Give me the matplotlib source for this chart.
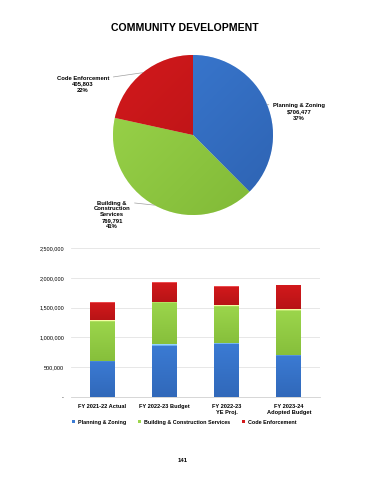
import matplotlib
matplotlib.use("Agg")
import matplotlib.pyplot as plt
import numpy as np
from matplotlib.colors import to_rgb

plt.rcParams['font.family'] = ['Liberation Sans', 'DejaVu Sans']

# ---- data ----
divisions = ["Planning & Zoning", "Building & Construction Services", "Code Enforcement"]
pie_values = [706477, 769791, 405803]
pie_pct = [37, 41, 22]

years = ["FY 2021-22 Actual", "FY 2022-23 Budget", "FY 2022-23\nYE Proj.", "FY 2023-24\nAdopted Budget"]
planning = [609000, 884000, 911000, 706477]
building = [678000, 715000, 633000, 769791]
code_enf = [302000, 326000, 313000, 405803]

yticks = [0, 500000, 1000000, 1500000, 2000000, 2500000]
ytick_labels = ["-", "500,000", "1,000,000", "1,500,000", "2,000,000", "2,500,000"]

colors = ["#3b7bd4", "#9cd64c", "#d3191c"]
dark = ["#2a5ca8", "#78b030", "#a51012"]

fig = plt.figure(figsize=(3.7, 4.8), dpi=100)
fig.patch.set_facecolor("white")

fig.text(185 / 370, 1 - 28 / 480, "COMMUNITY DEVELOPMENT", ha="center", va="center",
         fontsize=7.6, fontweight="bold")

# ---- pie ----
pax = fig.add_axes([113 / 370, 1 - 215 / 480, 160 / 370, 160 / 480])
wedges, _ = pax.pie(pie_values, colors=colors, startangle=90, counterclock=False,
                    wedgeprops=dict(linewidth=0.4, edgecolor="white"))
pax.set_aspect("equal")
pax.set_xlim(-1, 1)
pax.set_ylim(-1, 1)

for w, c, d in zip(wedges, colors, dark):
    c1 = np.array(to_rgb(c))
    c2 = np.array(to_rgb(d))
    n = 200
    yy, xx = np.mgrid[0:n, 0:n] / (n - 1)
    t = np.clip((xx * 0.5 + yy * 0.5), 0, 1)[..., None]
    img = c1 * (1 - t * 0.8) + c2 * (t * 0.8)
    im = pax.imshow(img, extent=(-1, 1, -1, 1), origin="upper", zorder=w.get_zorder() + 0.1)
    im.set_clip_path(w)

label_texts = [
    f"{divisions[0]}\n${pie_values[0]:,}\n{pie_pct[0]}%",
    f"Building &\nConstruction\nServices\n{pie_values[1]:,}\n{pie_pct[1]}%",
    f"{divisions[2]}\n{pie_values[2]:,}\n{pie_pct[2]}%",
]
text_pos = [(299, 480 - 112), (112, 480 - 215), (83, 480 - 84)]
relpos = [(0, 0.88), (1, 0.93), (1, 0.88)]
for w, txt, pos, rp in zip(wedges, label_texts, text_pos, relpos):
    ang = np.deg2rad((w.theta1 + w.theta2) / 2)
    xy = (np.cos(ang), np.sin(ang))
    pax.annotate(txt, xy=xy, xycoords="data", xytext=pos, textcoords="figure pixels",
                 ha="center", va="center", fontsize=4.2, fontweight="bold", linespacing=1.25,
                 arrowprops=dict(arrowstyle="-", color="#a0a0a0", lw=0.5, relpos=rp,
                                 shrinkA=1, shrinkB=0))

# ---- stacked bars ----
bax = fig.add_axes([71 / 370, 1 - 397 / 480, 249 / 370, 149 / 480])
x = np.arange(len(years))
width = 0.4
b1 = bax.bar(x, planning, width, color=colors[0], label=divisions[0], zorder=3)
b2 = bax.bar(x, building, width, bottom=planning, color=colors[1], label=divisions[1], zorder=3)
bottom3 = [p + b for p, b in zip(planning, building)]
b3 = bax.bar(x, code_enf, width, bottom=bottom3, color=colors[2], label=divisions[2], zorder=3)

for bars, c, d in zip([b1, b2, b3], colors, dark):
    c1 = np.array(to_rgb(c))
    c2 = np.array(to_rgb(d))
    for p in bars:
        x0, y0 = p.get_x(), p.get_y()
        w, h = p.get_width(), p.get_height()
        n = 100
        t = np.linspace(0, 1, n)[:, None, None]
        img = c1 * (1 - t * 0.6) + c2 * (t * 0.6)
        img = np.repeat(img, 2, axis=1)
        img[:3] = np.clip(c1 + 0.35, 0, 1)
        im = bax.imshow(img, extent=(x0, x0 + w, y0, y0 + h), origin="upper",
                        aspect="auto", zorder=3.5)
        im.set_clip_path(p)

bax.set_xlim(-0.5, 3.5)
bax.set_ylim(0, 2500000)
bax.set_yticks(yticks)
bax.set_yticklabels(ytick_labels, fontsize=4)
bax.set_xticks(x)
bax.set_xticklabels(years, fontsize=4.1, fontweight="bold", linespacing=1.2)
bax.tick_params(axis="both", length=0, pad=5)
bax.grid(axis="y", color="#e3e3e3", lw=0.6, zorder=0)
for s in ["top", "right", "left"]:
    bax.spines[s].set_visible(False)
bax.spines["bottom"].set_color("#d0d0d0")
bax.spines["bottom"].set_linewidth(0.6)

leg = bax.legend(loc="upper center", bbox_to_anchor=(0.455, -0.12), ncol=3, frameon=False,
                 fontsize=3.9, handlelength=0.5, handleheight=0.5, columnspacing=2.2,
                 handletextpad=0.6)
for t in leg.get_texts():
    t.set_fontweight("bold")

fig.text(183 / 370, 1 - 460 / 480, "141", ha="center", va="center", fontsize=4.3, fontweight="bold")

fig.savefig("out.png", dpi=100, facecolor="white")
